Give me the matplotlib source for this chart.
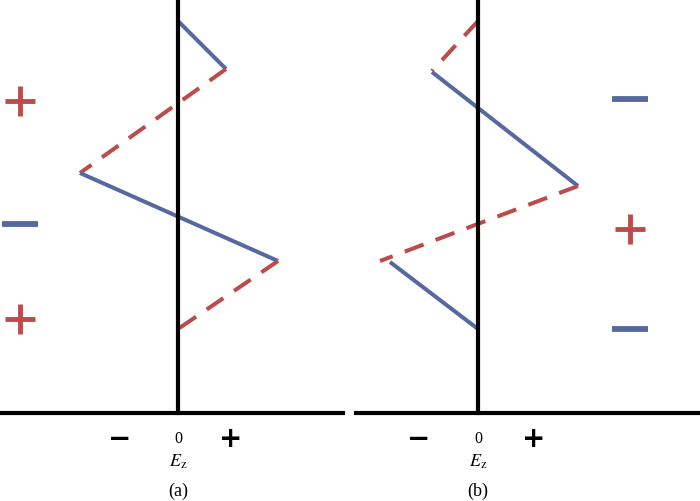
import matplotlib.pyplot as plt

plt.rcParams['mathtext.fontset'] = 'stix'

BLUE = '#56689f'
RED = '#bc4c49'

# panel (a): field profile, Ez offset vs height above baseline
ez_a = [0, 48, -98, 100, 0]
z_a = [392, 344, 240, 152, 84]
# panel (b)
ez_b_red1 = [0, -46]
z_b_red1 = [392, 342]
ez_b_blue1 = [-46, 100]
z_b_blue1 = [341, 227]
ez_b_red2 = [100, -98]
z_b_red2 = [227, 152]
ez_b_blue2 = [-88, 0]
z_b_blue2 = [151, 84]

# charge signs
signs_a = ['+', '-', '+']
signs_a_z = [312, 189, 94]
signs_b = ['-', '+', '-']
signs_b_z = [314, 184, 84]

tick_pos_a = [-58, 0, 53]
tick_pos_b = [-59, 0, 56]

fig = plt.figure(figsize=(7, 5.02), dpi=100)
W, H = 700, 502
base = 414
ax_a = fig.add_axes([0, (H - base) / H, 343 / W, base / H])
ax_b = fig.add_axes([356 / W, (H - base) / H, 344 / W, base / H])

lw = 2.9
dash = (0, (5, 3.2))


def setup(ax, xlim, ticks, label):
    ax.set_xlim(*xlim)
    ax.set_ylim(0, base)
    for s in ['top', 'right']:
        ax.spines[s].set_visible(False)
    ax.spines['left'].set_position(('data', 0))
    ax.spines['left'].set_linewidth(3)
    ax.spines['bottom'].set_linewidth(3)
    ax.set_xticks([])
    ax.set_yticks([])
    ax.patch.set_alpha(0)
    ax.text(ticks[0], -25, '\u2212', ha='center', va='center', fontsize=20,
            fontweight='bold', clip_on=False)
    ax.text(ticks[1], -25, '0', ha='center', va='center', fontsize=11.5,
            family='Liberation Serif', clip_on=False)
    ax.text(ticks[2], -25, '+', ha='center', va='center', fontsize=20,
            fontweight='bold', clip_on=False)
    ax.text(0, -48, r'$E_\mathrm{z}$', ha='center', va='center', fontsize=13,
            clip_on=False)
    ax.text(0, -77, label, ha='center', va='center', fontsize=13,
            family='Liberation Serif', clip_on=False)


def sign(ax, x, z, s):
    if s == '+':
        ax.plot(x, z, marker='+', ms=21, mew=3.5, color=RED, clip_on=False)
    else:
        ax.plot(x, z, marker='_', ms=26.5, mew=4.2, color=BLUE, clip_on=False)


setup(ax_a, (-178, 165), tick_pos_a, '(a)')
ax_a.plot(ez_a[0:2], z_a[0:2], color=BLUE, lw=lw, solid_capstyle='butt')
ax_a.plot(ez_a[1:3], z_a[1:3], color=RED, lw=lw, ls=dash, dash_capstyle='butt')
ax_a.plot(ez_a[2:4], z_a[2:4], color=BLUE, lw=lw, solid_capstyle='butt')
ax_a.plot(ez_a[3:5], z_a[3:5], color=RED, lw=lw, ls=dash, dash_capstyle='butt')
for s, z in zip(signs_a, signs_a_z):
    sign(ax_a, -158, z, s)

setup(ax_b, (-122, 222), tick_pos_b, '(b)')
ax_b.plot(ez_b_red1, z_b_red1, color=RED, lw=lw, ls=dash, dash_capstyle='butt')
ax_b.plot(ez_b_blue1, z_b_blue1, color=BLUE, lw=lw, solid_capstyle='butt')
ax_b.plot(ez_b_red2, z_b_red2, color=RED, lw=lw, ls=dash, dash_capstyle='butt')
ax_b.plot(ez_b_blue2, z_b_blue2, color=BLUE, lw=lw, solid_capstyle='butt')
for s, z in zip(signs_b, signs_b_z):
    sign(ax_b, 152, z, s)

fig.savefig('out.png', dpi=100)
